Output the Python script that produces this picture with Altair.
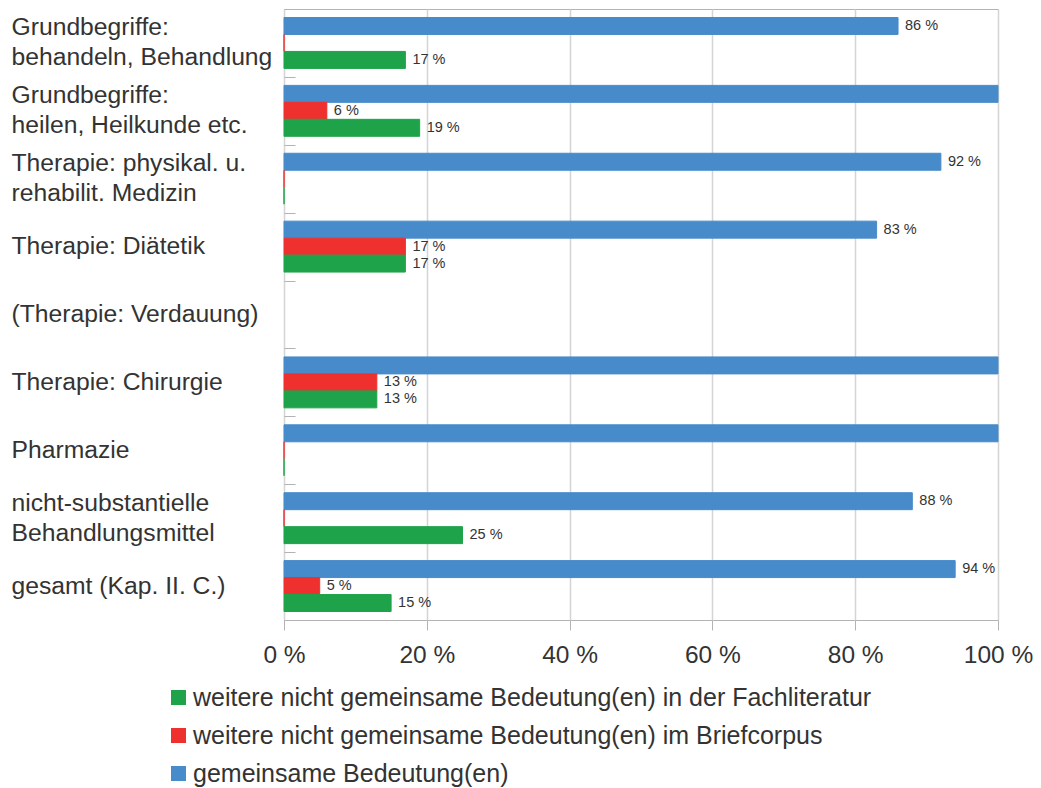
import altair as alt
import pandas as pd

categories = [
    "Grundbegriffe:\nbehandeln, Behandlung",
    "Grundbegriffe:\nheilen, Heilkunde etc.",
    "Therapie: physikal. u.\nrehabilit. Medizin",
    "Therapie: Diätetik",
    "(Therapie: Verdauung)",
    "Therapie: Chirurgie",
    "Pharmazie",
    "nicht-substantielle\nBehandlungsmittel",
    "gesamt (Kap. II. C.)",
]
gemeinsam = [86, 100, 92, 83, None, 100, 100, 88, 94]
briefcorpus = [0, 6, 0, 17, None, 13, 0, 0, 5]
fachliteratur = [17, 19, 0, 17, None, 13, 0, 25, 15]

series_names = [
    "gemeinsame Bedeutung(en)",
    "weitere nicht gemeinsame Bedeutung(en) im Briefcorpus",
    "weitere nicht gemeinsame Bedeutung(en) in der Fachliteratur",
]
legend_order = [series_names[2], series_names[1], series_names[0]]
legend_colors = ["#1FA34A", "#EE302F", "#478BCA"]

rows = []
for i, c in enumerate(categories):
    for s, vals in zip(series_names, [gemeinsam, briefcorpus, fachliteratur]):
        if vals[i] is not None:
            rows.append({"cat": c, "series": s, "value": vals[i]})
df = pd.DataFrame(rows)

FONT = "Liberation Sans"

y_enc = alt.Y(
    "cat:N",
    scale=alt.Scale(domain=categories, paddingInner=0, paddingOuter=0),
    axis=alt.Axis(
        title=None,
        domain=False,
        grid=False,
        ticks=True,
        tickBand="extent",
        tickSize=11,
        tickColor="#b3b3b3",
        offset=-11,
        labelAlign="left",
        labelBaseline="middle",
        labelPadding=273,
        labelLimit=400,
        labelFontSize=24.7,
        labelLineHeight=30,
        labelColor="#333333",
        labelFont=FONT,
        labelOffset={"condition": {"test": "isValid(datum.value) && indexof(datum.value, '\\n') >= 0", "value": -15}, "value": 0},
        labelExpr="isValid(datum.value) ? split(datum.value, '\\n') : ''",
    ),
)
yoff = alt.YOffset(
    "series:N",
    scale=alt.Scale(domain=series_names, paddingInner=0, paddingOuter=0.5),
)
x_enc = alt.X(
    "value:Q",
    scale=alt.Scale(domain=[0, 100], nice=False),
    axis=alt.Axis(
        title=None,
        values=[0, 20, 40, 60, 80, 100],
        labelExpr="datum.value + ' %'",
        grid=True,
        gridColor="#d4d4d4",
        gridWidth=1.5,
        domain=False,
        ticks=True,
        tickSize=10,
        tickColor="#b3b3b3",
        labelPadding=13,
        labelFontSize=24.5,
        labelColor="#333333",
        labelFont=FONT,
        labelFlush=False,
    ),
)

bars = alt.Chart(df).mark_bar(strokeWidth=1).encode(
    y=y_enc,
    yOffset=yoff,
    x=x_enc,
    color=alt.Color(
        "series:N",
        scale=alt.Scale(domain=legend_order, range=legend_colors),
        legend=alt.Legend(
            title=None,
            orient="none",
            legendX=-118,
            legendY=676,
            direction="vertical",
            symbolType="square",
            symbolSize=225,
            symbolStrokeWidth=0,
            labelFontSize=25,
            labelFont=FONT,
            labelColor="#333333",
            labelLimit=800,
            labelOffset=2,
            rowPadding=12,
            padding=0,
        ),
    ),
    stroke=alt.Stroke(
        "series:N",
        scale=alt.Scale(domain=legend_order, range=legend_colors),
        legend=None,
    ),
)

labels = (
    alt.Chart(df)
    .transform_filter("datum.value > 0 && datum.value < 100")
    .transform_calculate(lab="datum.value + ' %'")
    .mark_text(align="left", baseline="middle", dx=7, fontSize=14.5, font=FONT, color="#333333")
    .encode(y=alt.Y("cat:N", scale=alt.Scale(domain=categories)), yOffset=yoff, x=alt.X("value:Q"), text="lab:N")
)

chart = (
    alt.layer(bars, labels)
    .properties(
        width=714,
        height=611,
        autosize=alt.AutoSizeParams(type="none"),
        padding={"left": 276, "top": 1, "right": 35, "bottom": 168},
        background="white",
    )
    .configure_view(stroke="#b3b3b3", strokeWidth=1)
)

chart.save("out.html", embed_options={"renderer": "svg", "actions": False})
